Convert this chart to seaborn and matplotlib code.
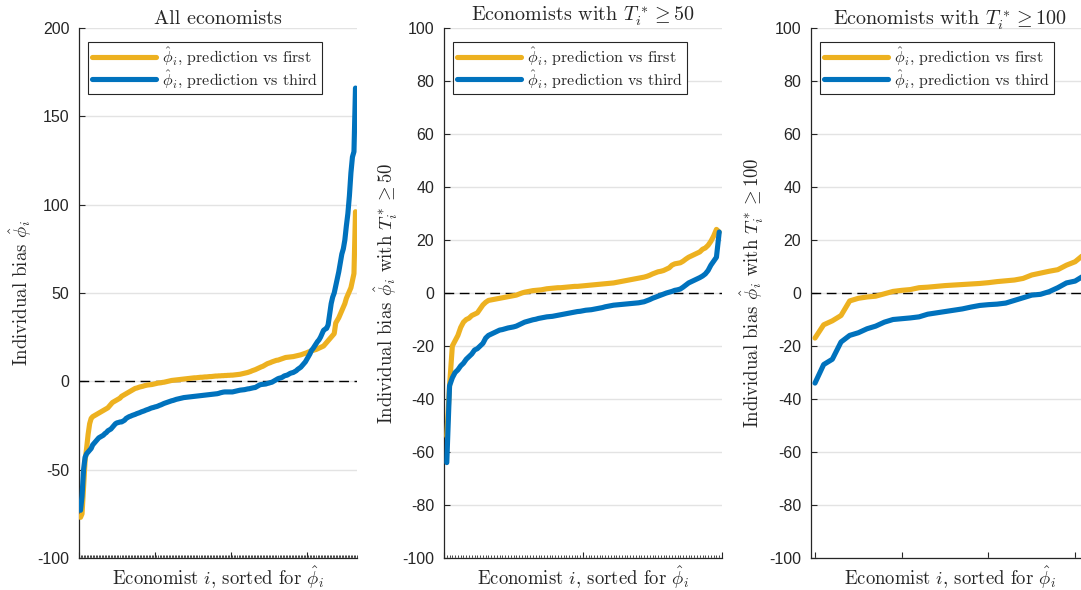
import numpy as np
import pandas as pd
import matplotlib
matplotlib.use("Agg")
import matplotlib.pyplot as plt
from matplotlib.lines import Line2D
import seaborn as sns

# ---------------- data ----------------
all_first = [-77, -75, -60, -45, -38, -30, -24, -21, -20, -19.5,
             -19, -18.5, -18, -17.5, -17, -16.5, -16, -15.5, -15, -14,
             -13, -12, -11.5, -11, -10.5, -10, -9.5, -8.5, -8, -7.5,
             -7, -6.5, -6, -5.5, -5, -4.5, -4, -3.8, -3.5, -3.2,
             -3, -2.8, -2.5, -2.3, -2.1, -2, -1.9, -1.8, -1.6, -1.4,
             -1.2, -1.0, -0.9, -0.8, -0.6, -0.5, -0.3, -0.1, 0.1, 0.3,
             0.5, 0.6, 0.7, 0.8, 0.9, 1.0, 1.1, 1.2, 1.3, 1.4,
             1.5, 1.6, 1.7, 1.8, 1.9, 2.0, 2.0, 2.1, 2.2, 2.3,
             2.3, 2.4, 2.5, 2.5, 2.6, 2.7, 2.7, 2.8, 2.9, 3.0,
             3.0, 3.1, 3.1, 3.2, 3.2, 3.3, 3.3, 3.4, 3.4, 3.5,
             3.5, 3.6, 3.7, 3.8, 3.9, 4.0, 4.2, 4.4, 4.6, 4.8,
             5.0, 5.3, 5.6, 6.0, 6.3, 6.6, 7.0, 7.4, 7.8, 8.2,
             8.5, 9.0, 9.5, 10.0, 10.3, 10.6, 11.0, 11.3, 11.6, 11.9,
             12.0, 12.3, 12.6, 12.9, 13.2, 13.5, 13.6, 13.7, 13.8, 13.9,
             14.0, 14.2, 14.4, 14.6, 14.8, 15.0, 15.3, 15.6, 15.9, 16.2,
             16.6, 16.9, 17.2, 17.5, 17.8, 18.0, 18.4, 18.8, 19.2, 19.6,
             20, 21, 22, 23, 24, 25, 26, 27, 33, 34.5,
             36, 38, 40, 42, 44, 47, 49, 51, 53, 57,
             61, 96]
all_third = [-73, -65, -50, -43, -41, -40, -39, -38, -36, -35,
             -34, -33, -32, -31.5, -31, -30.5, -29.6, -29, -28, -27.5,
             -27, -26, -25, -24, -23.5, -23.3, -23, -23, -22.5, -22,
             -21, -20.5, -20, -19.7, -19.3, -19, -18.7, -18.3, -18, -17.7,
             -17.3, -17, -16.7, -16.3, -16, -15.7, -15.3, -15, -14.8, -14.5,
             -14.3, -14, -13.6, -13.3, -12.9, -12.5, -12.2, -11.9, -11.6, -11.3,
             -11, -10.8, -10.5, -10.2, -10, -9.8, -9.6, -9.4, -9.2, -9.1,
             -9, -8.9, -8.8, -8.7, -8.6, -8.5, -8.4, -8.3, -8.2, -8.1,
             -8, -7.9, -7.8, -7.7, -7.6, -7.5, -7.4, -7.3, -7.2, -7.1,
             -7, -6.8, -6.5, -6.3, -6.1, -6, -6, -6, -6, -6,
             -6, -5.8, -5.6, -5.4, -5.2, -5, -4.9, -4.8, -4.7, -4.5,
             -4.3, -4.2, -4.0, -3.8, -3.6, -3.5, -3.0, -2.5, -2, -1.8,
             -1.7, -1.6, -1.5, -1.2, -1.0, -0.7, -0.5, 0, 0.5, 1.0,
             1.5, 1.8, 2.0, 2.4, 3.0, 3.3, 3.5, 4.0, 4.5, 4.8,
             5, 5.5, 6, 6.8, 7.4, 8, 9, 10, 11, 12.5,
             14, 15.5, 17.5, 18.5, 19.8, 21, 22.5, 23.5, 25, 27,
             28.9, 29.5, 30, 32, 38, 44, 47.7, 50, 54, 58,
             62, 67, 72, 75, 80, 88, 95, 105, 118, 127,
             130, 166]

t50_first = [-54, -35, -20, -18, -16, -13, -11, -10, -9.5, -8.5,
             -8, -7.5, -6, -4.5, -3.5, -2.8, -2.6, -2.4, -2.2, -2,
             -1.8, -1.6, -1.4, -1.2, -1, -0.8, -0.4, 0, 0.3, 0.5,
             0.7, 0.9, 1.0, 1.1, 1.2, 1.4, 1.6, 1.7, 1.8, 1.9,
             2.0, 2.0, 2.1, 2.2, 2.3, 2.4, 2.5, 2.5, 2.6, 2.7,
             2.8, 2.9, 3.0, 3.1, 3.2, 3.3, 3.4, 3.5, 3.6, 3.7,
             3.8, 4.0, 4.2, 4.4, 4.6, 4.8, 5.0, 5.2, 5.4, 5.6,
             5.8, 6.0, 6.3, 6.7, 7.2, 7.6, 8.0, 8.2, 8.5, 9.0,
             9.5, 10.5, 11, 11.2, 11.4, 12, 12.8, 13.5, 14, 14.5,
             15, 15.5, 16.5, 17, 18, 19.5, 21.5, 24, 23]
t50_third = [-64, -35, -32, -30, -29, -27.5, -26.5, -25, -24, -23,
             -21.5, -21, -20, -19, -17, -16, -15.5, -15, -14.5, -14,
             -13.8, -13.5, -13.2, -13, -12.8, -12.5, -12, -11.5, -11, -10.7,
             -10.4, -10.1, -9.9, -9.6, -9.4, -9.2, -9.0, -8.9, -8.8, -8.6,
             -8.4, -8.2, -8.0, -7.8, -7.6, -7.4, -7.2, -7.0, -6.9, -6.7,
             -6.5, -6.4, -6.3, -6.1, -5.9, -5.7, -5.5, -5.2, -5.0, -4.8,
             -4.6, -4.5, -4.4, -4.3, -4.2, -4.1, -4.0, -3.9, -3.8, -3.7,
             -3.5, -3.3, -2.9, -2.5, -2.0, -1.6, -1.2, -0.8, -0.4, 0,
             0.3, 0.6, 1.0, 1.2, 1.5, 2.2, 3.0, 3.8, 4.3, 4.8,
             5.3, 5.8, 6.4, 7.2, 8.5, 10.5, 12, 13.5, 23]

t100_first = [-17, -12, -10.5, -8.5, -3, -2, -1.5, -1.2, -0.3, 0.6,
              1.0, 1.3, 2.0, 2.2, 2.5, 2.8, 3.0, 3.2, 3.4, 3.6,
              3.9, 4.3, 4.6, 4.9, 5.5, 6.8, 7.5, 8.2, 8.8, 10.5,
              11.8, 14.5]
t100_third = [-34, -27, -25, -18.5, -16, -15, -13.5, -12.5, -11, -10,
              -9.7, -9.4, -9, -8, -7.5, -7, -6.5, -6, -5.3, -4.7,
              -4.4, -4.2, -3.8, -2.8, -1.8, -0.8, -0.5, 0.5, 2.0, 3.8,
              4.5, 6.5]

titles = ["All economists",
          r"Economists with $T_i^* \geq 50$",
          r"Economists with $T_i^* \geq 100$"]
ylabels = [r"Individual bias $\hat{\phi}_i$",
           r"Individual bias $\hat{\phi}_i$ with $T_i^* \geq 50$",
           r"Individual bias $\hat{\phi}_i$ with $T_i^* \geq 100$"]
xlabel = r"Economist $i$, sorted for $\hat{\phi}_i$"
legend_labels = [r"$\hat{\phi}_i$, prediction vs first",
                 r"$\hat{\phi}_i$, prediction vs third"]

# ---------------- style ----------------
sns.set_style("white")
plt.rcParams["mathtext.fontset"] = "cm"
plt.rcParams["axes.unicode_minus"] = False
plt.rcParams["font.family"] = ["Liberation Sans", "DejaVu Sans"]

YELLOW = "#EDB120"
BLUE = "#0072BD"
SERIF = "cmr10"

fig = plt.figure(figsize=(10.81, 5.90), dpi=100)
W, H = 1081, 590
ax_w = 278 / W
ax_h = 530 / H
ax_b = 1 - 558 / H
lefts = [79 / W, 444 / W, 811 / W]

panels = [
    (all_first, all_third, 1, (0, 183), [0, 50, 100, 150], True,
     (-100, 200), np.arange(-100, 201, 50)),
    (t50_first, t50_third, 1, (0, 100), [0, 50, 100], True,
     (-100, 100), np.arange(-100, 101, 20)),
    (t100_first, t100_third, 0, (-0.46, 31.6), [0, 10, 20, 30], False,
     (-100, 100), np.arange(-100, 101, 20)),
]

for k, (yf, yt, x0, xl, xt, minor, yl, yt_ticks) in enumerate(panels):
    ax = fig.add_axes([lefts[k], ax_b, ax_w, ax_h])
    n = len(yf)
    df = pd.DataFrame({
        "x": np.concatenate([np.arange(x0, x0 + n), np.arange(x0, x0 + len(yt))]),
        "y": np.concatenate([yf, yt]),
        "s": [legend_labels[0]] * n + [legend_labels[1]] * len(yt),
    })
    ax.yaxis.grid(True, color="#e3e3e3", lw=1.0, zorder=0)
    ax.set_axisbelow(True)
    ax.axhline(0, color="black", lw=1.0, ls=(0, (7, 4)), zorder=1)
    sns.lineplot(data=df, x="x", y="y", hue="s",
                 palette=[YELLOW, BLUE], lw=3.7, ax=ax, legend=False,
                 zorder=3)
    ax.set_xlim(*xl)
    ax.set_ylim(*yl)
    ax.set_xticks(xt)
    ax.set_xticklabels([])
    if minor:
        ax.set_xticks(np.arange(0, xl[1] + 0.01, 1), minor=True)
        ax.tick_params(axis="x", which="minor", direction="in", length=2,
                       width=0.6, color="#262626", bottom=True)
    ax.set_yticks(yt_ticks)
    ax.set_yticklabels([str(int(v)) for v in yt_ticks])
    ax.tick_params(axis="both", which="major", direction="in", length=4,
                   width=0.8, color="#262626", labelcolor="#262626",
                   labelsize=11.5, pad=7, bottom=True, left=True)
    for side in ["top", "right"]:
        ax.spines[side].set_visible(False)
    for side in ["left", "bottom"]:
        ax.spines[side].set_color("#262626")
        ax.spines[side].set_linewidth(0.9)
    ax.set_title(titles[k], fontsize=14.5, family=SERIF, pad=2)
    ax.set_xlabel(xlabel, fontsize=13.5, family=SERIF)
    ax.xaxis.set_label_coords(0.5, -0.013)
    ax.set_ylabel(ylabels[k], fontsize=13.5, family=SERIF, labelpad=2)

    handles = [Line2D([], [], color=YELLOW, lw=3.7),
               Line2D([], [], color=BLUE, lw=3.7)]
    leg = ax.legend(handles, legend_labels, loc="upper left",
                    bbox_to_anchor=(0.032, 0.974), borderaxespad=0,
                    prop={"family": SERIF, "size": 11.5},
                    handlelength=4.0, handletextpad=0.4,
                    labelspacing=0.05, borderpad=0.25,
                    frameon=True, fancybox=False, framealpha=1)
    leg.get_frame().set_edgecolor("#262626")
    leg.get_frame().set_linewidth(0.8)

fig.savefig("out.png", dpi=100)
